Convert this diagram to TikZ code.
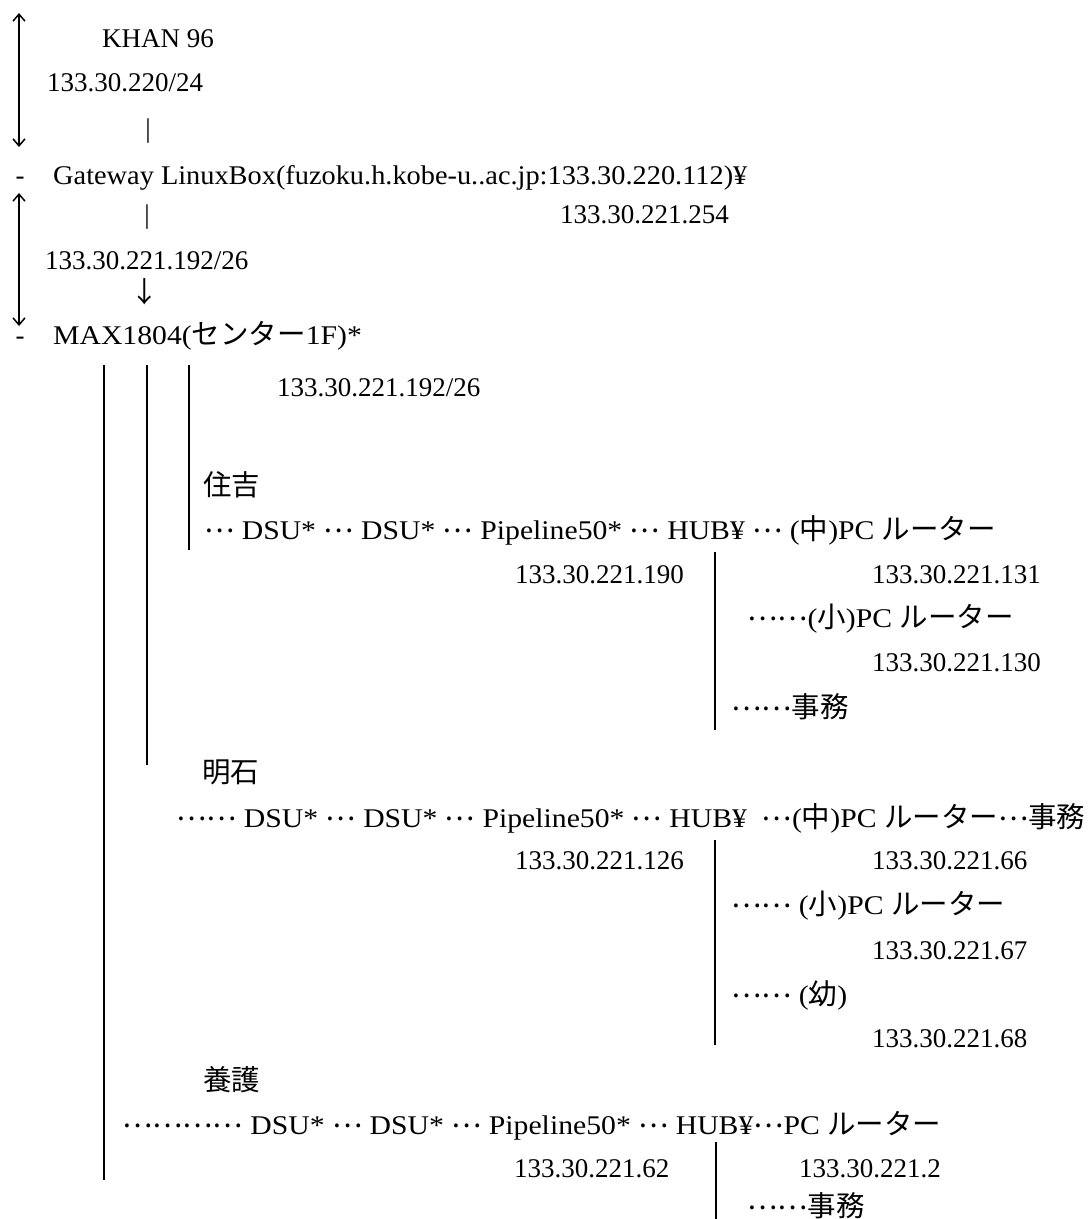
\documentclass[tikz,border=0pt]{standalone}
\usepackage{fontspec}
\setmainfont{Liberation Serif}
\newfontfamily\jpfont{Noto Sans CJK JP}
\newfontfamily\widefont[FakeStretch=1.10]{Liberation Serif}
\newfontfamily\gwfont[FakeStretch=1.05]{Liberation Serif}
\newcommand{\J}[1]{{\jpfont\fontsize{28.5}{30}\selectfont #1}}
\newcommand{\dd}{\raisebox{.25em}{\J{…}}}
\usetikzlibrary{arrows,arrows.meta}

\begin{document}
\begin{tikzpicture}[x=1pt,y=-1pt,>={Straight Barb[length=7pt,width=12pt]},
  every node/.style={inner sep=0pt,anchor=base west,font=\fontsize{27}{30}\selectfont},
  row/.style={font=\widefont\fontsize{27}{30}\selectfont},
  ln/.style={line width=1.5pt}]
\useasboundingbox (0,0) rectangle (1091,1219);
% \draw[help lines,step=100] (0,0) grid (1091,1219);
% --- KHAN side
\node (khan) at (102,47) {KHAN 96};
\node (net1) at (47,91) {133.30.220/24};
\node (bar1) [anchor=base] at (148,137) {|};
\node (dash1) [anchor=base] at (20,184) {-};
\node (gw) [font=\gwfont\fontsize{27}{30}\selectfont] at (53,184) {Gateway LinuxBox(fuzoku.h.kobe-u..ac.jp:133.30.220.112)¥};
\coordinate (a1t) at (19,13);
\coordinate (a1b) at (19,147);
\path[<->,ln] (a1t) edge (a1b);
% --- gateway to MAX
\node (bar2) [anchor=base] at (147,223) {|};
\node (ip254) at (560,223) {133.30.221.254};
\node (net2) at (45,269) {133.30.221.192/26};
\node (down) [anchor=center] at (145,292) {\J{↓}};
\node (dash2) [anchor=base] at (20,344) {-};
\node (max) [row] at (53,344) {MAX1804(\J{センター}1F)*};
\coordinate (a2t) at (19,193);
\coordinate (a2b) at (19,326);
\path[<->,ln] (a2t) edge (a2b);
\node (net3) at (277,396) {133.30.221.192/26};
% branch lines
\coordinate (v1t) at (104,365);
\coordinate (v1b) at (104,1180);
\coordinate (v2t) at (147,365);
\coordinate (v2b) at (147,765);
\coordinate (v3t) at (189,365);
\coordinate (v3b) at (189,550);
\path[ln] (v1t) edge (v1b) (v2t) edge (v2b) (v3t) edge (v3b);
% --- 住吉
\node (sumi) at (203,495) {\J{住吉}};
\node (row1) [row] at (204,539) {\dd{} DSU* \dd{} DSU* \dd{} Pipeline50* \dd{} HUB¥ \dd{} (\J{中})PC \J{ルーター}};
\node (ip190) at (515,583) {133.30.221.190};
\node (ip131) at (872,583) {133.30.221.131};
\node (sho1) [row] at (747,627) {\dd\dd(\J{小})PC \J{ルーター}};
\node (ip130) at (872,671) {133.30.221.130};
\node (jimu1) at (731,717) {\dd\dd\J{事務}};
\coordinate (h1t) at (715,552);
\coordinate (h1b) at (715,730);
\path[ln] (h1t) edge (h1b);
% --- 明石
\node (akashi) at (202,782) {\J{明石}};
\node (row2) [row] at (176,827) {\dd\dd{} DSU* \dd{} DSU* \dd{} Pipeline50* \dd{} HUB¥ \ \dd(\J{中})PC \J{ルーター}\dd\J{事務}};
\node (ip126) at (515,869) {133.30.221.126};
\node (ip66) at (872,869) {133.30.221.66};
\node (sho2) [row] at (731,914) {\dd\dd{} (\J{小})PC \J{ルーター}};
\node (ip67) at (872,959) {133.30.221.67};
\node (you2) [row] at (731,1004) {\dd\dd{} (\J{幼})};
\node (ip68) at (872,1047) {133.30.221.68};
\coordinate (h2t) at (715,840);
\coordinate (h2b) at (715,1045);
\path[ln] (h2t) edge (h2b);
% --- 養護
\node (yogo) at (203,1090) {\J{養護}};
\node (row3) [row] at (122,1134) {\dd\dd\dd\dd{} DSU* \dd{} DSU* \dd{} Pipeline50* \dd{} HUB¥\dd PC \J{ルーター}};
\node (ip62) at (514,1177) {133.30.221.62};
\node (ip2) at (799,1177) {133.30.221.2};
\node (jimu3) at (747,1216) {\dd\dd\J{事務}};
\coordinate (h3t) at (716,1142);
\coordinate (h3b) at (716,1219);
\path[ln] (h3t) edge (h3b);
\end{tikzpicture}
\end{document}
